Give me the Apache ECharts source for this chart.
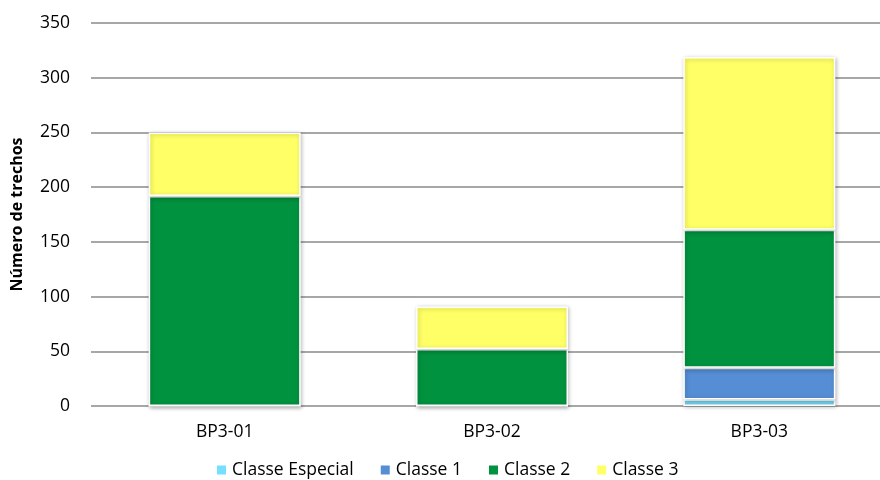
<!DOCTYPE html>
<html><head><meta charset="utf-8">
<script src="https://cdn.jsdelivr.net/npm/echarts@6/dist/echarts.min.js"></script>
<style>html,body{margin:0;padding:0;background:#fff}#c{width:880px;height:480px}</style>
</head><body><div id="c"></div>
<script>
const categories = ['BP3-01', 'BP3-02', 'BP3-03'];
const classeEspecial = [0, 0, 6];
const classe1 = [0, 0, 29];
const classe2 = [192, 52, 126];
const classe3 = [58, 39, 158];
const seriesNames = ['Classe Especial', 'Classe 1', 'Classe 2', 'Classe 3'];
const colors = ['#75DFFF', '#558ED5', '#00923F', '#FFFF66'];
const yTicks = { min: 0, max: 350, interval: 50 };

const font = '"Open Sans", "Noto Sans", sans-serif';
const chart = echarts.init(document.getElementById('c'), null, { renderer: 'canvas' });
const dataSets = [classeEspecial, classe1, classe2, classe3];
chart.setOption({
  animation: false,
  grid: { left: 91, top: 23, width: 802, height: 383, containLabel: false, outerBoundsMode: 'none' },
  legend: {
    top: 456, left: 210, itemWidth: 11, itemHeight: 11, itemGap: 25,
    icon: 'rect',
    textStyle: { fontFamily: font, fontSize: 17.5, color: '#000' },
    data: seriesNames
  },
  xAxis: {
    type: 'category', data: categories,
    axisLine: { show: false }, axisTick: { show: false },
    axisLabel: { fontFamily: font, fontSize: 17.5, color: '#000', margin: 17 }
  },
  yAxis: {
    type: 'value', min: yTicks.min, max: yTicks.max, interval: yTicks.interval,
    name: 'Número de trechos', nameLocation: 'middle', nameGap: 66,
    nameTextStyle: { fontFamily: font, fontSize: 16, fontWeight: 'bold', color: '#000' },
    axisLine: { show: false }, axisTick: { show: false },
    axisLabel: { fontFamily: font, fontSize: 17.5, color: '#000', margin: 21 },
    splitLine: { lineStyle: { color: '#8a8a8a', width: 1.5 } }
  },
  series: dataSets.map((d, i) => ({
    name: seriesNames[i], type: 'bar', stack: 'total', data: d,
    barWidth: 152,
    itemStyle: {
      color: colors[i], borderColor: '#ffffff', borderWidth: 1.5,
      shadowColor: 'rgba(0,0,0,0.25)', shadowBlur: 4, shadowOffsetX: 1, shadowOffsetY: 1
    }
  }))
});
</script></body></html>
